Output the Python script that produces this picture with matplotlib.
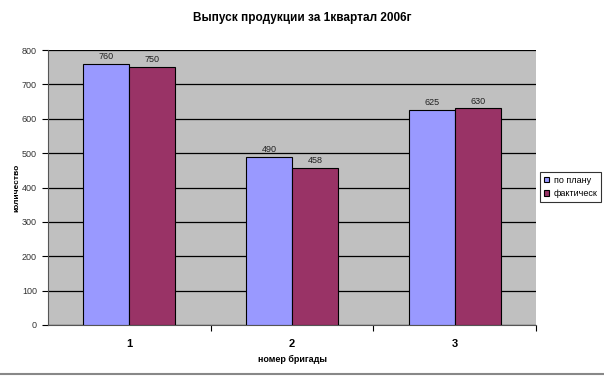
import matplotlib
matplotlib.use("Agg")
import matplotlib.pyplot as plt
import numpy as np

plt.rcParams['font.family'] = ['Liberation Sans', 'DejaVu Sans']

categories = ['1', '2', '3']
plan = [760, 490, 625]
fact = [750, 458, 630]
series_names = ['по плану', 'фактическ']
title = 'Выпуск продукции за 1квартал 2006г'

fig = plt.figure(figsize=(6.04, 3.76), dpi=100)
ax = fig.add_axes([48/604, 1-325/376, 488/604, 275/376])
ax.set_facecolor('#C0C0C0')

x = np.arange(len(categories))
w = 0.283
b1 = ax.bar(x - w/2, plan, w, color='#9999FF', edgecolor='black', linewidth=0.8, label=series_names[0], zorder=3)
b2 = ax.bar(x + w/2, fact, w, color='#993366', edgecolor='black', linewidth=0.8, label=series_names[1], zorder=3)
for bars, vals in ((b1, plan), (b2, fact)):
    for r, v in zip(bars, vals):
        ax.text(r.get_x() + r.get_width()/2, v + 8, str(v), ha='center', va='bottom', fontsize=6.5, color='#222222')

ax.set_xlim(-0.5, 2.5)
ax.set_ylim(0, 800)
ax.set_yticks(range(0, 801, 100))
ax.yaxis.grid(True, color='black', linewidth=0.9, zorder=0)
ax.set_axisbelow(True)
ax.set_xticks([0.5, 1.5, 2.5], minor=False)
ax.set_xticklabels([])
ax.set_xticks(x, minor=True)
ax.set_xticklabels(categories, minor=True, fontsize=8, fontweight='bold')
ax.tick_params(axis='x', which='minor', length=0, pad=10)
ax.tick_params(axis='x', which='major', length=4, direction='out')
ax.tick_params(axis='y', length=4, direction='out', labelsize=6.5, labelcolor='#333333', pad=4)
for s in ['top', 'right']:
    ax.spines[s].set_visible(False)
ax.spines['left'].set_color('#555555')
ax.spines['bottom'].set_color('#555555')

ax.set_xlabel('номер бригады', fontsize=6.5, fontweight='bold', labelpad=4)
fig.text(17/604, 1-188/376, 'количество', rotation=90, ha='center', va='center', fontsize=6, fontweight='bold')
fig.text(0.5, 1-18/376, title, ha='center', va='center', fontsize=8.5, fontweight='bold')

leg = fig.legend(handles=[b1, b2], loc='upper left', bbox_to_anchor=(540/604, 1-172/376),
                 frameon=True, fontsize=6.5, handlelength=0.6, handleheight=0.6,
                 borderpad=0.4, labelspacing=0.5, handletextpad=0.5, fancybox=False,
                 edgecolor='black', borderaxespad=0)
leg.get_frame().set_linewidth(0.8)

fig.add_artist(plt.Line2D([0, 1], [1-374/376, 1-374/376], color='#888888', linewidth=1.5, transform=fig.transFigure))

fig.savefig('out.png', dpi=100)
